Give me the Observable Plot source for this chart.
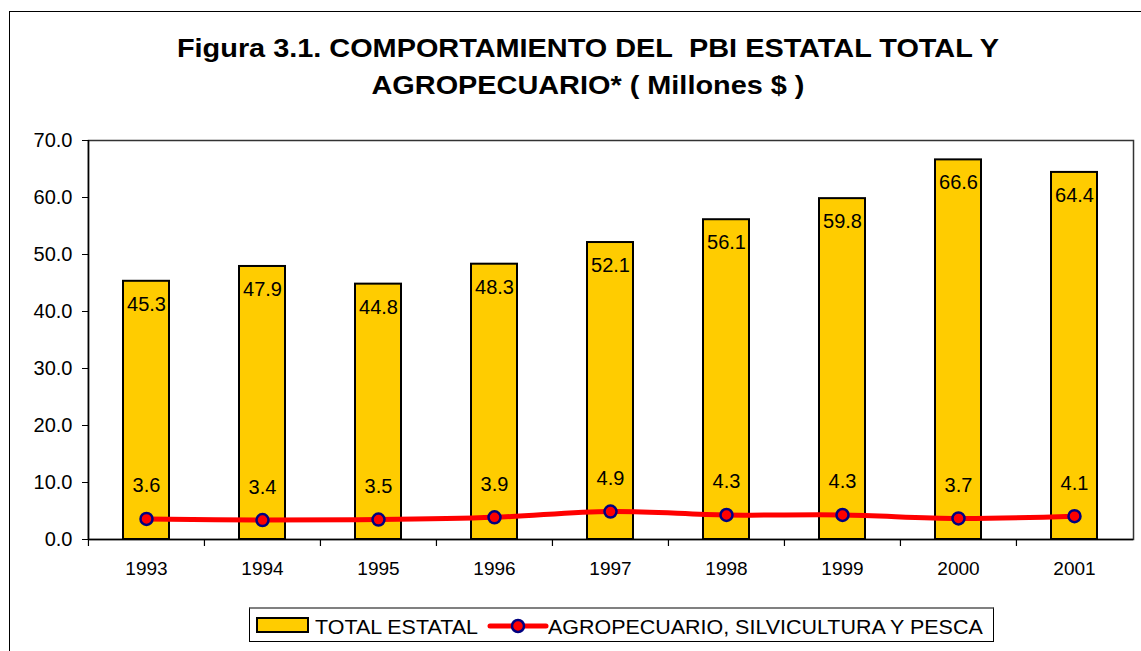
<!DOCTYPE html>
<html>
<head>
<meta charset="utf-8">
<script src="https://cdn.jsdelivr.net/npm/d3@7"></script>
<script src="https://cdn.jsdelivr.net/npm/@observablehq/plot@0.6"></script>
<style>
  html, body { margin: 0; padding: 0; background: #fff; overflow: hidden; width: 1141px; height: 651px; }
  body { position: relative; font-family: "Liberation Sans", Arial, sans-serif; }
  #frame { position: absolute; left: 9px; top: 11px; width: 1200px; height: 700px; border: 1px solid #000; box-sizing: border-box; }
  #title { position: absolute; left: 88px; width: 1000px; top: 30px; text-align: center; font-weight: bold; font-size: 26px; line-height: 37px; color: #000; transform: scaleX(1.11); transform-origin: 500px 0; white-space: nowrap; }
  #chart { position: absolute; left: 10px; top: 110px; }
  #legend { position: absolute; left: 249px; top: 607px; width: 745px; height: 35px; border: 1px solid #000; border-top: 2px solid #808080; box-sizing: border-box; }
  .lg { position: absolute; font-size: 19.5px; line-height: 20px; color: #000; white-space: nowrap; transform: scaleX(1.1); transform-origin: 0 0; }
  #legend svg { position: absolute; display: block; }
</style>
</head>
<body>
<div id="frame"></div>
<div id="title">Figura 3.1. COMPORTAMIENTO DEL&nbsp; PBI ESTATAL TOTAL Y<br>AGROPECUARIO* ( Millones $ )</div>
<div id="chart"></div>
<div id="legend">
  <svg width="56" height="20" style="left:5px; top:7px"><rect x="2" y="2" width="51" height="14" fill="#FFCC00" stroke="#000" stroke-width="2"></rect></svg>
  <span class="lg" style="left:65px; top:8px">TOTAL ESTATAL</span>
  <svg width="64" height="24" style="left:236px; top:5px"><line x1="4" y1="12" x2="60" y2="12" stroke="#FF0000" stroke-width="5" stroke-linecap="round"></line><circle cx="32" cy="12" r="6" fill="#FF0000" stroke="#000080" stroke-width="2.5"></circle></svg>
  <span class="lg" style="left:298px; top:8px">AGROPECUARIO, SILVICULTURA Y PESCA</span>
</div>
<script>
const years = ["1993","1994","1995","1996","1997","1998","1999","2000","2001"];
const totalEstatal = [45.3, 47.9, 44.8, 48.3, 52.1, 56.1, 59.8, 66.6, 64.4];
const agropecuario = [3.6, 3.4, 3.5, 3.9, 4.9, 4.3, 4.3, 3.7, 4.1];
const yTicks = [0, 10, 20, 30, 40, 50, 60, 70];

const bars = years.map((y, i) => ({year: y, value: totalEstatal[i]}));
const agro = years.map((y, i) => ({year: y, value: agropecuario[i]}));

const W = 1131, H = 479, mL = 78, mR = 8, mT = 30, mB = 50;
const step = (W - mL - mR) / years.length;

const chart = Plot.plot({
  width: W,
  height: H,
  marginLeft: mL,
  marginRight: mR,
  marginTop: mT,
  marginBottom: mB,
  style: {fontFamily: "'Liberation Sans', Arial, sans-serif", fontSize: "19px", color: "#000", background: "transparent", overflow: "visible"},
  x: {domain: years, paddingInner: 0.6, paddingOuter: 0.3, align: 0.5, label: null},
  y: {domain: [0, 70], label: null},
  marks: [
    Plot.frame({stroke: "#333", strokeWidth: 1.5}),
    Plot.barY(bars, {x: "year", y: "value", fill: "#FFCC00", stroke: "#000", strokeWidth: 2}),
    Plot.text(bars, {x: "year", y: "value", text: d => d.value.toFixed(1), dy: 23, fill: "#000", fontSize: 20}),
    Plot.line(agro, {x: "year", y: "value", stroke: "#FF0000", strokeWidth: 5, curve: "catmull-rom"}),
    Plot.dot(agro, {x: "year", y: "value", r: 6, fill: "#FF0000", stroke: "#000080", strokeWidth: 2.5}),
    Plot.text(agro, {x: "year", y: "value", text: d => d.value.toFixed(1), dy: -33, fill: "#000", fontSize: 20}),
    Plot.ruleY([0], {stroke: "#000", strokeWidth: 1.5}),
    Plot.ruleX([years[0]], {stroke: "#000", strokeWidth: 1.5, dx: -step / 2}),
    Plot.axisX(years, {anchor: "bottom", tickSize: 7, text: null, dx: -step / 2, stroke: "#000", strokeWidth: 1.2}),
    Plot.axisY(yTicks, {anchor: "left", tickSize: 6, tickPadding: 10, tickFormat: d => d.toFixed(1), fontSize: 20, stroke: "#000"}),
    Plot.axisX({anchor: "bottom", tickSize: 0, tickPadding: 22, fontSize: 19})
  ]
});
document.getElementById("chart").appendChild(chart);
</script>
</body>
</html>
